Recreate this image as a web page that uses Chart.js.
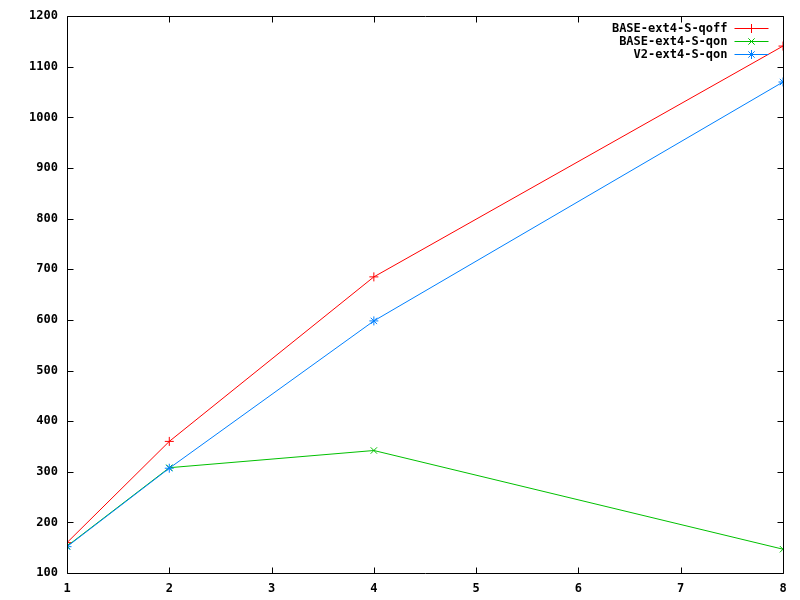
<!DOCTYPE html>
<html>
<head>
<meta charset="utf-8">
<script src="https://cdn.jsdelivr.net/npm/chart.js@4/dist/chart.umd.min.js"></script>
<style>
html,body{margin:0;padding:0;background:#fff;}
#wrap{width:800px;height:600px;}
</style>
</head>
<body>
<div id="wrap"><canvas id="c" width="800" height="600"></canvas></div>
<script>
const threads = [1, 2, 4, 8];
const seriesNames = ['BASE-ext4-S-qoff', 'BASE-ext4-S-qon', 'V2-ext4-S-qon'];
const qoffValues = [160, 360, 685, 1141];
const qonValues = [153, 308, 342, 147];
const v2Values = [152, 307, 598, 1070];
const yTicks = [100, 200, 300, 400, 500, 600, 700, 800, 900, 1000, 1100, 1200];
const xTicks = [1, 2, 3, 4, 5, 6, 7, 8];

const colors = ['#ff0000', '#00c000', '#0080ff'];
const pointStyles = ['cross', 'crossRot', 'star'];
const allValues = [qoffValues, qonValues, v2Values];

const FONT = {family: "'DejaVu Sans Mono', 'Liberation Mono', monospace", size: 12, weight: 'bold'};

const datasets = seriesNames.map((name, i) => ({
  label: name,
  data: threads.map((t, j) => ({x: t, y: allValues[i][j]})),
  borderColor: colors[i],
  backgroundColor: colors[i],
  borderWidth: 1,
  pointStyle: pointStyles[i],
  pointRadius: 4.5,
  pointBorderWidth: 1,
  pointBorderColor: colors[i],
  tension: 0,
  fill: false,
  order: 2 - i
}));

const framePlugin = {
  id: 'frame',
  afterDraw(chart) {
    const ctx = chart.ctx;
    const a = chart.chartArea;
    const xs = chart.scales.x, ys = chart.scales.y;
    const L = Math.round(a.left) + 0.5, R = Math.round(a.right) + 0.5;
    const T = Math.round(a.top) + 0.5, B = Math.round(a.bottom) + 0.5;
    ctx.save();
    ctx.strokeStyle = '#000';
    ctx.lineWidth = 1;
    ctx.beginPath();
    ctx.rect(L, T, R - L, B - T);
    const tl = 6;
    yTicks.forEach(v => {
      const py = Math.round(ys.getPixelForValue(v)) + 0.5;
      ctx.moveTo(L, py); ctx.lineTo(L + tl, py);
      ctx.moveTo(R, py); ctx.lineTo(R - tl, py);
    });
    xTicks.forEach(v => {
      const px = Math.round(xs.getPixelForValue(v)) + 0.5;
      ctx.moveTo(px, B); ctx.lineTo(px, B - tl);
      ctx.moveTo(px, T); ctx.lineTo(px, T + tl);
    });
    ctx.stroke();

    // legend (gnuplot style, top-right inside)
    ctx.font = `${FONT.weight} ${FONT.size}px ${FONT.family}`;
    ctx.textAlign = 'right';
    ctx.textBaseline = 'middle';
    const textRight = R - 56;
    const sx0 = R - 49, sx1 = R - 15;
    chart.data.datasets.forEach((ds, i) => {
      const y = Math.round(T + 11 + i * 13) + 0.5;
      ctx.fillStyle = '#000';
      ctx.fillText(ds.label, textRight, y);
      ctx.strokeStyle = ds.borderColor;
      ctx.lineWidth = 1;
      ctx.beginPath();
      ctx.moveTo(sx0, y); ctx.lineTo(sx1, y);
      ctx.stroke();
      Chart.helpers.drawPoint(ctx, {pointStyle: ds.pointStyle, radius: 4.5, borderWidth: 1, rotation: 0}, (sx0 + sx1) / 2, y);
    });
    ctx.restore();
  }
};

new Chart(document.getElementById('c'), {
  type: 'line',
  data: {datasets},
  options: {
    responsive: false,
    animation: false,
    devicePixelRatio: 1,
    layout: {padding: {top: 14, right: 17, left: 0, bottom: 0}},
    plugins: {legend: {display: false}, tooltip: {enabled: false}},
    scales: {
      x: {
        type: 'linear',
        min: 1, max: 8,
        afterFit: s => { s.height = 27; },
        afterBuildTicks: s => { s.ticks = xTicks.map(v => ({value: v})); },
        grid: {display: false, drawTicks: false},
        border: {display: false},
        ticks: {color: '#000', font: FONT, padding: 9, maxRotation: 0, autoSkip: false, callback: v => String(v)}
      },
      y: {
        type: 'linear',
        min: 100, max: 1200,
        afterFit: s => { s.width = 67; },
        afterBuildTicks: s => { s.ticks = yTicks.map(v => ({value: v})); },
        grid: {display: false, drawTicks: false},
        border: {display: false},
        ticks: {color: '#000', font: FONT, padding: 9, autoSkip: false, callback: v => String(v)}
      }
    }
  },
  plugins: [framePlugin]
});
</script>
</body>
</html>
